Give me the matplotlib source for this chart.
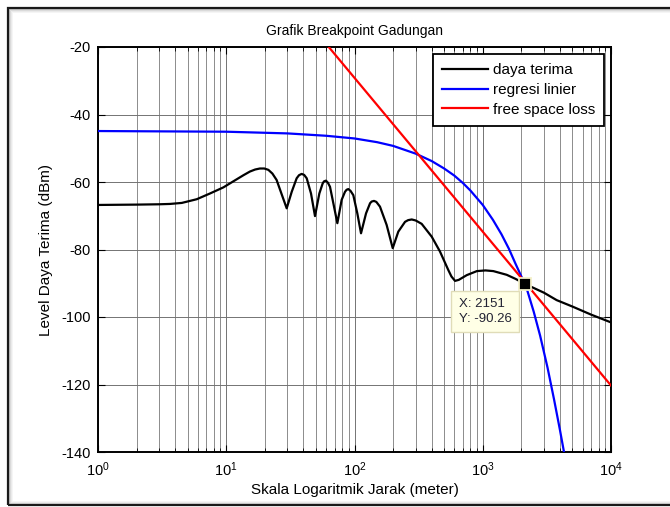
import matplotlib
matplotlib.use("Agg")
import matplotlib.pyplot as plt
from matplotlib.patches import Rectangle
from matplotlib.ticker import LogLocator, NullFormatter

plt.rcParams['font.family'] = ['Liberation Sans', 'DejaVu Sans']
plt.rcParams['mathtext.fontset'] = 'custom'
plt.rcParams['mathtext.rm'] = 'Liberation Sans'
plt.rcParams['mathtext.it'] = 'Liberation Sans'
plt.rcParams['axes.unicode_minus'] = False

# ---------------- data ----------------
dist_black = [1, 2, 3, 3.64, 4.5, 5.89, 7.47, 9.49, 12.06, 13.6, 15.3, 16.8, 18.3, 19.8,
              21.3, 22.9, 24.7, 27.5, 29.6, 32.4, 35.4, 36.9, 38.7, 40.5, 42.4, 45.8,
              49.2, 53.2, 56.5, 57.9, 59.9, 62.0, 64.4, 68.4, 73.5, 79.4, 84.3, 86.8,
              89.5, 93.0, 97.9, 105.2, 112.4, 123, 132.2, 136, 141.9, 148, 158, 178,
              198.6, 219.6, 247.8, 262, 279.4, 300, 334, 400, 464, 539, 570, 608, 650,
              750, 900, 1050, 1209, 1538, 1800, 2151, 3000, 3770, 5000, 7000, 10000]
level_black = [-66.8, -66.7, -66.6, -66.5, -66.2, -65.1, -63.4, -61.6, -59.2, -58.0,
               -56.9, -56.3, -56.0, -56.0, -56.4, -57.5, -59.4, -64.4, -67.8, -62.9,
               -58.9, -58.0, -57.6, -57.9, -58.9, -63.4, -70.1, -63.4, -60.4, -59.8,
               -59.6, -60.2, -61.4, -66.3, -72.2, -65.3, -62.9, -62.3, -62.1, -62.6,
               -63.9, -69.3, -75.2, -69.3, -66.3, -65.8, -65.6, -65.9, -67.3, -72.7,
               -79.6, -74.7, -71.8, -71.3, -71.1, -71.4, -72.4, -76.2, -80.6, -86.1,
               -88.0, -89.3, -89.0, -87.6, -86.4, -86.2, -86.4, -87.5, -88.7, -90.26,
               -92.8, -95.0, -96.9, -99.3, -101.6]

dist_blue = [1, 10, 30, 60, 100, 150, 200, 300, 400, 500, 600, 700, 800, 1000, 1200,
             1400, 1600, 1800, 2000, 2151, 2500, 2800, 3200, 3600, 4000, 4300]
level_blue = [-44.9, -45.1, -45.6, -46.3, -47.1, -48.2, -49.3, -51.6, -53.8, -56.0,
              -58.1, -60.3, -62.5, -66.8, -71.2, -75.5, -79.8, -84.2, -88.0, -90.3,
              -98.5, -105.5, -115.0, -124.5, -133.5, -140.0]

dist_red = [63, 10000]
level_red = [-20, -120.3]

tip_x = 2151
tip_y = -90.26

series_labels = ["daya terima", "regresi linier", "free space loss"]
y_ticks = [-140, -120, -100, -80, -60, -40, -20]

# ---------------- figure ----------------
W, H = 670, 507
fig = plt.figure(figsize=(W / 100, H / 100), dpi=100)
fig.patch.set_facecolor('white')

# screenshot frame with soft shadow
for i, a in enumerate([0.22, 0.14, 0.08, 0.04]):
    fig.add_artist(Rectangle(((9 + i) / W, (3 + i) / H), 1.2, (H - 12 - 2 * i) / H,
                             transform=fig.transFigure, fill=False,
                             edgecolor='black', alpha=a, linewidth=0.75))
fig.add_artist(Rectangle((8 / W, 2 / H), 1.2, (H - 10) / H, transform=fig.transFigure,
                         fill=False, edgecolor='#1a1a1a', linewidth=1.6))

ax = fig.add_axes([98 / W, 55 / H, 513 / W, 405 / H])
ax.set_xscale('log')
ax.set_xlim(1, 1e4)
ax.set_ylim(-140, -20)

ax.plot(dist_black, level_black, color='black', lw=1.6, label=series_labels[0],
        zorder=3, solid_joinstyle='round')
ax.plot(dist_blue, level_blue, color='#0000ff', lw=1.6, label=series_labels[1], zorder=3)
ax.plot(dist_red, level_red, color='#ff0000', lw=1.6, label=series_labels[2], zorder=3)

ax.set_yticks(y_ticks)
ax.xaxis.set_major_locator(LogLocator(base=10, numticks=10))
ax.xaxis.set_minor_locator(LogLocator(base=10, subs=range(2, 10), numticks=20))
ax.xaxis.set_minor_formatter(NullFormatter())

ax.grid(True, which='major', axis='both', color='0.45', lw=0.7)
ax.grid(True, which='minor', axis='x', color='0.55', lw=0.7)
ax.set_axisbelow(True)

ax.tick_params(which='both', direction='in', top=True, right=True, labelsize=10.5,
               color='black')
ax.tick_params(which='major', length=5, width=0.8)
ax.tick_params(which='minor', length=3, width=0.6)
ax.tick_params(axis='x', pad=6)
ax.tick_params(axis='y', pad=5)
for s in ax.spines.values():
    s.set_linewidth(1.4)
    s.set_color('black')

ax.set_title('Grafik Breakpoint Gadungan', fontsize=10, pad=9)
ax.set_xlabel('Skala Logaritmik Jarak (meter)', fontsize=11, labelpad=3)
ax.set_ylabel('Level Daya Terima (dBm)', fontsize=11, labelpad=6)

leg = ax.legend(loc='upper right', fontsize=11, frameon=True, fancybox=False,
                framealpha=1, edgecolor='black', handlelength=3.0, handletextpad=0.3,
                labelspacing=0.38, borderpad=0.6, borderaxespad=0.45)
leg.get_frame().set_linewidth(1.3)

# data tip
ax.plot([tip_x], [tip_y], marker='s', ms=8, mfc='black', mec='#f3f0c8', mew=1.3,
        zorder=5, linestyle='none')
ax.annotate(f'X: {tip_x}\nY: {tip_y}', xy=(tip_x, tip_y), xytext=(-48, -10),
            textcoords='offset points', ha='left', va='top', fontsize=9.5,
            color='#222233', linespacing=1.35, zorder=6,
            bbox=dict(boxstyle='square,pad=0.55', fc='#ffffe6', ec='#e0dcb8', lw=1))

fig.savefig('out.png', dpi=100)
